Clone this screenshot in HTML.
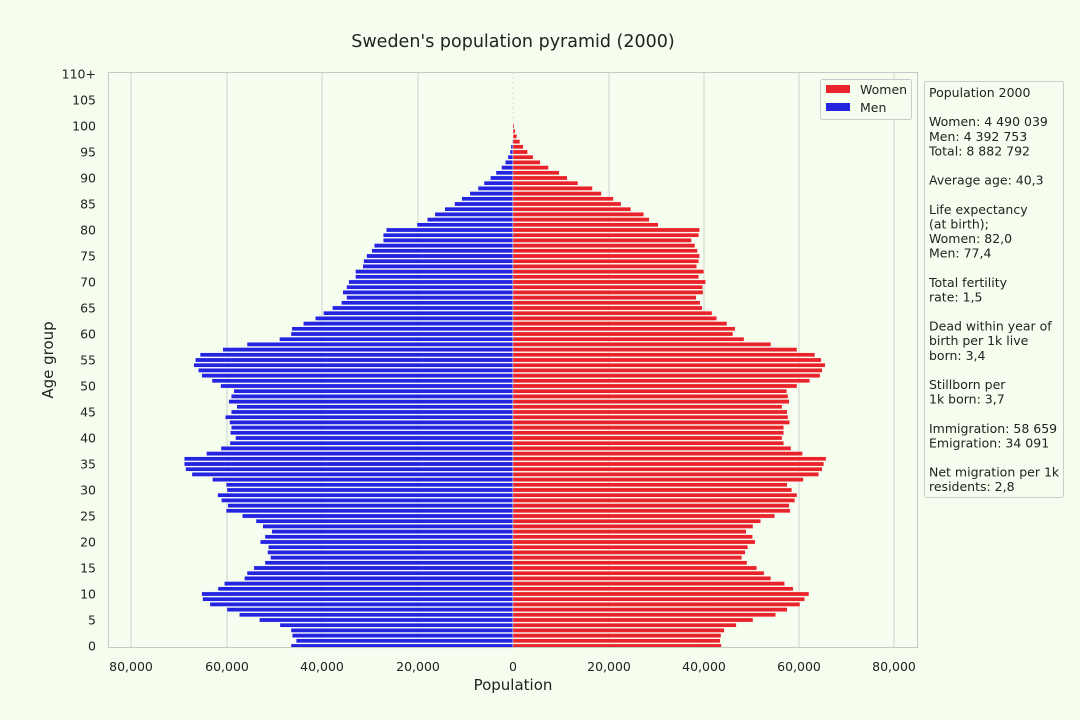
<!DOCTYPE html>
<html><head><meta charset="utf-8"><style>
body{margin:0;background:#f5feee;}
svg{display:block;font-family:"DejaVu Sans","Liberation Sans",sans-serif;}
</style></head><body>
<svg id="s" width="1080" height="720" xmlns="http://www.w3.org/2000/svg">
<rect width="1080" height="720" fill="#f5feee"/>
<text x="513" y="47" font-size="17.5" text-anchor="middle" fill="#222">Sweden's population pyramid (2000)</text>
<g id="grid"></g>
<g id="bars"></g>
<rect x="108.5" y="72.5" width="809" height="575" fill="none" stroke="#c8c8c8" stroke-width="1"/>
<g id="labels" font-size="12.5" fill="#222"></g>
<text x="513" y="690" font-size="15" text-anchor="middle" fill="#222">Population</text>
<text transform="translate(53,360) rotate(-90)" font-size="15" text-anchor="middle" fill="#222">Age group</text>
<rect x="820.5" y="79.5" width="91" height="40" rx="2" fill="#f5feee" stroke="#ccc"/>
<rect x="826" y="85" width="24" height="8" fill="#e8242a"/>
<text x="860" y="94" font-size="12.5" fill="#222">Women</text>
<rect x="826" y="103" width="24" height="8" fill="#2323e0"/>
<text x="860" y="112" font-size="12.5" fill="#222">Men</text>
<rect x="924.5" y="81.5" width="139" height="416" rx="2" fill="#f5feee" stroke="#ccc"/>
<g font-size="12.5" fill="#222" id="info"></g>
</svg>
<script>
var NS="http://www.w3.org/2000/svg";
function el(p,t,a,txt){var e=document.createElementNS(NS,t);for(var k in a)e.setAttribute(k,a[k]);if(txt!==undefined)e.textContent=txt;document.getElementById(p).appendChild(e);return e;}
var gx=[131,227,322,418,609,704,799,894];
gx.forEach(function(x){el("grid","line",{x1:x,x2:x,y1:72,y2:648,stroke:"#d0d0d0","stroke-width":1});});
el("grid","line",{x1:513,x2:513,y1:72,y2:648,stroke:"#d8d8d8","stroke-width":1,"stroke-dasharray":"2,3"});
var xl=[[131,"80,000"],[227,"60,000"],[322,"40,000"],[418,"20,000"],[513,"0"],[609,"20,000"],[704,"40,000"],[799,"60,000"],[894,"80,000"]];
xl.forEach(function(a){el("labels","text",{x:a[0],y:671,"text-anchor":"middle"},a[1]);});
for(var a=0;a<=110;a+=5){el("labels","text",{x:96,y:646-5.2*a+4.5,"text-anchor":"end"},a==110?"110+":String(a));}
var L=[260,272,263,260,234,186,139,110,70,53,51,89,104,151,157,173,199,212,205,207,188,199,215,194,178,146,108,112,97,88,110,108,76,28,13,10,10,62,96,117,130,118,120,116,106,120,133,114,120,126,95,75,51,43,32,36,47,100,157,233,260,262,289,317,336,357,378,390,381,390,395,411,411,428,430,437,449,455,476,476,483,555,579,597,620,643,660,679,698,712,727,740,753,762,768,773,775,778,779,780,780];
var R=[1268,1265,1267,1275,1303,1342,1395,1422,1452,1463,1473,1436,1416,1384,1368,1351,1328,1316,1324,1330,1347,1341,1326,1342,1360,1393,1429,1427,1440,1445,1433,1422,1460,1496,1504,1508,1513,1458,1431,1414,1410,1414,1414,1428,1424,1422,1410,1427,1424,1421,1445,1475,1499,1504,1511,1502,1487,1445,1384,1321,1295,1300,1281,1257,1246,1223,1218,1209,1225,1224,1231,1215,1227,1210,1215,1217,1212,1206,1198,1215,1217,1120,1099,1086,1056,1033,1015,987,966,932,907,888,863,844,827,814,804,796,789,785,783];
var s=2.342;
for(var i=0;i<=100;i++){
 var y=646-5.2*i-2.1;
 var lx=180+L[i]/s, rx=180+R[i]/s;
 if(513-lx>0.3) el("bars","rect",{x:lx,y:y,width:513-lx,height:4.2,fill:"#2323e0",stroke:"#fff","stroke-width":0.4});
 if(rx-513>0.3) el("bars","rect",{x:513,y:y,width:rx-513,height:4.2,fill:"#e8242a",stroke:"#fff","stroke-width":0.4});
}
var info=["Population 2000","","Women: 4 490 039","Men: 4 392 753","Total: 8 882 792","","Average age: 40,3","","Life expectancy","(at birth);","Women: 82,0","Men: 77,4","","Total fertility","rate: 1,5","","Dead within year of","birth per 1k live","born: 3,4","","Stillborn per","1k born: 3,7","","Immigration: 58 659","Emigration: 34 091","","Net migration per 1k","residents: 2,8"];
info.forEach(function(t,i){if(t)el("info","text",{x:929,y:97+i*14.6},t);});
</script>
</body></html>
